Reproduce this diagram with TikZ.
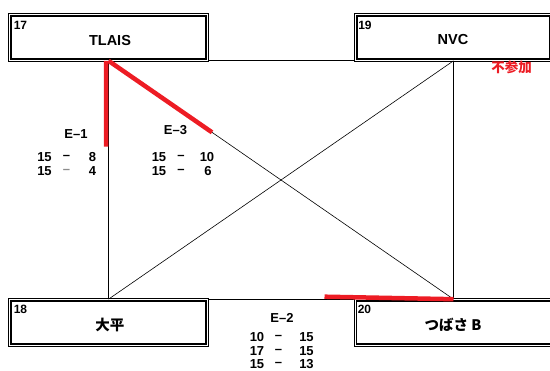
\documentclass[tikz,border=0pt]{standalone}
\usepackage{fontspec}
\setmainfont{Liberation Sans}
\newfontfamily\jpfont{Noto Sans CJK JP}
\usetikzlibrary{calc}
\definecolor{markred}{RGB}{237,28,36}
\tikzset{
  team/.style={draw, line width=1.2pt, double=white, double distance=1.2pt,
    minimum width=#1, minimum height=45.4pt, inner sep=0pt},
  teamname/.style={font=\fontsize{14.5}{14.5}\selectfont\bfseries, inner sep=0pt},
  teamno/.style={font=\fontsize{12}{12}\selectfont\bfseries, inner sep=0pt},
  score/.style={font=\fontsize{13}{13}\selectfont\bfseries, inner sep=0pt},
  link/.style={line width=1.2pt},
  cross/.style={line width=0.6pt},
  redmark/.style={markred, line width=4.5pt},
}
\begin{document}
\begin{tikzpicture}[x=1pt,y=-1pt]
\useasboundingbox (0,0) rectangle (550,371);

% team boxes
\node[team=197.4pt] (tlais) at (108.5,37.5) {};
\node[team=195.4pt] (nvc) at (453.5,37.5) {};
\node[team=197.4pt] (daihei) at (108.5,322.5) {};
\node[team=196.4pt] (tsubasa) at (453.5,322.5) {};

\node[teamno] (tlaisno) at (20.5,25) {17};
\node[teamno] (nvcno) at (365,25) {19};
\node[teamno] (daiheino) at (20.5,309) {18};
\node[teamno] (tsubasano) at (364.5,309) {20};

\node[teamname] (tlaisname) at (110,40.5) {TLAIS};
\node[teamname] (nvcname) at (453,39.5) {NVC};
\node[teamname] (daiheiname) at (110,325) {\jpfont 大平};
\node[teamname] (tsubasaname) at (453,324.5) {\jpfont つばさ B};

\node[teamname, markred, font=\fontsize{13.5}{13.5}\selectfont\bfseries] (nvcabsent) at (511.5,67.5) {\jpfont 不参加};

% connectors
\draw[link] (tlais.south east) -- (nvc.south west);
\draw[link] (daihei.north east) -- (tsubasa.north west);
\draw[link] (tlais.south) -- (daihei.north);
\draw[link] (nvc.south) -- (tsubasa.north);
\draw[cross] (tlais.south) -- (tsubasa.north);
\draw[cross] (nvc.south) -- (daihei.north);

% winners
\draw[redmark] ([xshift=-2.5pt]tlais.south) -- ($(tlais.south)!0.36!(daihei.north)+(-2.5,0)$);
\draw[redmark] (tlais.south) -- ($(tlais.south)!0.3!(tsubasa.north)$);
\draw[redmark] (tsubasa.north) -- ($(tsubasa.north)!0.525!(daihei.north east)+(0,-2.5)$);

% E-1
\node[score] (e1) at (76,134.5) {E--1};
\node[score] at (44.5,157.5) {15};
\node[score] at (66.5,157.5) {--};
\node[score] at (92.5,157.5) {8};
\node[score] at (44.5,171) {15};
\node[score, black!45] at (66.5,171) {--};
\node[score] at (92.5,171) {4};

% E-3
\node[score] (e3) at (175.5,130) {E--3};
\node[score] at (159,157.5) {15};
\node[score] at (181,157.5) {--};
\node[score] at (207,157.5) {10};
\node[score] at (159,171) {15};
\node[score] at (181,171) {--};
\node[score] at (208,171) {6};

% E-2
\node[score] (e2) at (282,317.5) {E--2};
\node[score] at (257,337.5) {10};
\node[score] at (278.5,337.5) {--};
\node[score] at (306.5,337.5) {15};
\node[score] at (257,351.5) {17};
\node[score] at (278.5,351.5) {--};
\node[score] at (306.5,351.5) {15};
\node[score] at (257,364.5) {15};
\node[score] at (278.5,364.5) {--};
\node[score] at (306.5,364.5) {13};
\end{tikzpicture}
\end{document}
